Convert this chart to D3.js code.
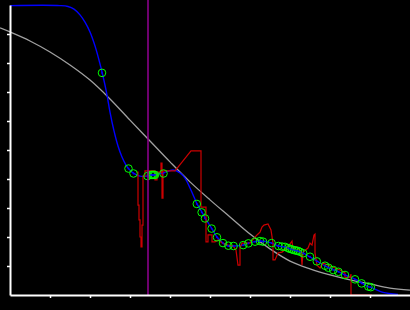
<!DOCTYPE html>
<html>
<head>
<meta charset="utf-8">
<script src="https://cdn.jsdelivr.net/npm/d3@7"></script>
<style>
  html, body { margin: 0; padding: 0; background: #000; }
  svg { display: block; }
</style>
</head>
<body>
<div id="chart"></div>
<script>
// ---- data (x: 0..10, y: 0..10) ----
const grayCurve = [
  [-0.25, 9.21], [0, 9.07], [0.5, 8.76], [1.0, 8.38], [1.5, 7.93], [2.0, 7.41],
  [2.5, 6.76], [3.0, 6.03], [3.5, 5.31], [4.0, 4.59], [4.5, 3.9], [5.0, 3.28],
  [5.5, 2.69], [6.0, 2.1], [6.5, 1.59], [7.0, 1.17], [7.5, 0.9], [8.0, 0.69],
  [8.5, 0.52], [9.0, 0.38], [9.5, 0.24], [10.0, 0.17],
];

const blueCurve = [
  [0, 9.98], [1.25, 9.98], [1.45, 9.95], [1.6, 9.86], [1.75, 9.66], [1.875, 9.41],
  [2.0, 9.07], [2.125, 8.59], [2.25, 7.97], [2.3, 7.69], [2.375, 7.24], [2.425, 6.9],
  [2.5, 6.31], [2.6, 5.66], [2.7, 5.14], [2.8, 4.76], [2.9, 4.48], [2.975, 4.34],
  [3.075, 4.21], [3.25, 4.1], [3.425, 4.1], [3.575, 4.14], [3.825, 4.21],
  [4.075, 4.31], [4.25, 4.21], [4.375, 4.03], [4.5, 3.69], [4.6, 3.38],
  [4.675, 3.14], [4.8, 2.86], [4.875, 2.66], [5.05, 2.28], [5.175, 2.0],
  [5.325, 1.79], [5.45, 1.69], [5.6, 1.69], [5.825, 1.72], [5.95, 1.79],
  [6.125, 1.84], [6.25, 1.86], [6.55, 1.79], [6.7, 1.69], [6.875, 1.66],
  [7.0, 1.59], [7.25, 1.48], [7.325, 1.45], [7.5, 1.31], [7.675, 1.17],
  [7.875, 1.0], [8.0, 0.93], [8.175, 0.83], [8.375, 0.69], [8.625, 0.55],
  [8.8, 0.41], [8.95, 0.29], [9.025, 0.26], [9.325, 0.09], [9.7, 0.02],
];

const redTrace = [
  [3.175, 4.24], [3.2, 4.24], [3.2, 3.1], [3.225, 3.1], [3.225, 2.59], [3.25, 2.59],
  [3.25, 2.0], [3.275, 2.0], [3.275, 1.66], [3.3, 1.66], [3.3, 2.41], [3.325, 2.41],
  [3.325, 4.1], [3.375, 4.1], [3.375, 4.28], [3.625, 4.28], [3.625, 3.97],
  [3.675, 3.97], [3.675, 4.24], [3.775, 4.24], [3.775, 4.55], [3.8, 4.55],
  [3.8, 3.34], [3.825, 3.34], [3.825, 4.28], [4.125, 4.28], [4.525, 4.97],
  [4.775, 4.97], [4.775, 3.03], [4.9, 3.03], [4.9, 1.83], [4.95, 1.83],
  [4.95, 2.07], [5.05, 2.07], [5.05, 1.83], [5.125, 1.83], [5.2, 1.9], [5.3, 1.79],
  [5.45, 1.72], [5.575, 1.69], [5.65, 1.55], [5.7, 1.03], [5.75, 1.03],
  [5.75, 1.62], [5.8, 1.79], [6.0, 1.79], [6.175, 2.07], [6.25, 2.17], [6.3, 2.34],
  [6.35, 2.41], [6.45, 2.45], [6.525, 2.24], [6.575, 1.79], [6.575, 1.21],
  [6.625, 1.21], [6.7, 1.45], [6.8, 1.48], [6.925, 1.62], [7.05, 1.86],
  [7.075, 1.55], [7.175, 1.66], [7.275, 1.48], [7.3, 1.03], [7.325, 1.48],
  [7.45, 1.62], [7.5, 1.79], [7.55, 1.72], [7.6, 2.07], [7.625, 2.1], [7.625, 1.45],
  [7.675, 1.03], [7.75, 0.93], [7.825, 1.1], [8.0, 1.0], [8.25, 0.86],
  [8.375, 0.76], [8.375, 0.59], [8.5, 0.62], [8.525, 0.72], [8.525, 0], [9.05, 0],
];

const samplePoints = [
  [2.3, 7.66], [2.9625, 4.36], [3.0875, 4.19], [3.4375, 4.1], [3.525, 4.14],
  [3.55, 4.14], [3.575, 4.14], [3.6, 4.14], [3.625, 4.14], [3.8375, 4.19],
  [4.67, 3.14], [4.79, 2.85], [4.875, 2.64], [5.04, 2.29], [5.175, 1.99],
  [5.325, 1.79], [5.46, 1.7], [5.59, 1.69], [5.83, 1.72], [5.96, 1.78],
  [6.125, 1.84], [6.25, 1.86], [6.325, 1.84], [6.54, 1.79], [6.71, 1.69],
  [6.8, 1.67], [6.875, 1.66], [6.95, 1.62], [7.0, 1.59], [7.05, 1.57], [7.1, 1.55],
  [7.15, 1.53], [7.2, 1.52], [7.25, 1.49], [7.33, 1.44], [7.5, 1.32], [7.67, 1.16],
  [7.875, 1.01], [7.96, 0.94], [8.08, 0.86], [8.21, 0.8], [8.375, 0.69],
  [8.625, 0.54], [8.79, 0.4], [8.96, 0.29], [9.02, 0.27],
];

const markerX = 3.45;
const xTicks = [1, 2, 3, 4, 5, 6, 7, 8, 9];
const yTicks = [1, 2, 3, 4, 5, 6, 7, 8, 9];

// ---- layout ----
const width = 410;
const height = 310;
const margin = { top: 5, right: 0, bottom: 15, left: 10 };

const x = d3.scaleLinear().domain([0, 10]).range([margin.left, width - margin.right]);
const y = d3.scaleLinear().domain([0, 10]).range([height - margin.bottom, margin.top]);

const svg = d3.select("#chart")
  .append("svg")
  .attr("width", width)
  .attr("height", height)
  .style("background", "#000");

const line = d3.line().x((d) => x(d[0])).y((d) => y(d[1]));

// gray reference curve
svg.append("path")
  .datum(grayCurve)
  .attr("fill", "none")
  .attr("stroke", "#a0a0a0")
  .attr("stroke-width", 1.3)
  .attr("d", line.curve(d3.curveCatmullRom));

// fitted blue curve
svg.append("path")
  .datum(blueCurve)
  .attr("fill", "none")
  .attr("stroke", "#0000ff")
  .attr("stroke-width", 1.4)
  .attr("d", line.curve(d3.curveCatmullRom));

// raw red trace
svg.append("path")
  .datum(redTrace)
  .attr("fill", "none")
  .attr("stroke", "#cc0000")
  .attr("stroke-width", 1.2)
  .attr("d", line.curve(d3.curveLinear));

// sample points: green ring with a blue dot
const pts = svg.append("g");
pts.selectAll("circle.ring")
  .data(samplePoints)
  .join("circle")
  .attr("class", "ring")
  .attr("cx", (d) => x(d[0]))
  .attr("cy", (d) => y(d[1]))
  .attr("r", 3.8)
  .attr("fill", "none")
  .attr("stroke", "#00ff00")
  .attr("stroke-width", 1);
pts.selectAll("circle.dot")
  .data(samplePoints)
  .join("circle")
  .attr("class", "dot")
  .attr("cx", (d) => x(d[0]))
  .attr("cy", (d) => y(d[1]))
  .attr("r", 0.9)
  .attr("fill", "#0000ff");

// purple marker line
svg.append("line")
  .attr("x1", x(markerX))
  .attr("x2", x(markerX))
  .attr("y1", 0)
  .attr("y2", y(0))
  .attr("stroke", "#8a008a")
  .attr("stroke-width", 1.6);

// axes: white, no labels
const xAxis = svg.append("g")
  .attr("transform", `translate(0,${y(0)})`)
  .call(d3.axisBottom(x).tickValues(xTicks).tickFormat("").tickSize(3).tickSizeOuter(0));
const yAxis = svg.append("g")
  .attr("transform", `translate(${x(0)},0)`)
  .call(d3.axisLeft(y).tickValues(yTicks).tickFormat("").tickSize(3).tickSizeOuter(0));

[xAxis, yAxis].forEach((a) => {
  a.select(".domain").attr("stroke", "#fff").attr("stroke-width", 2);
  a.selectAll(".tick line").attr("stroke", "#fff").attr("stroke-width", 1.5);
});
</script>
</body>
</html>
